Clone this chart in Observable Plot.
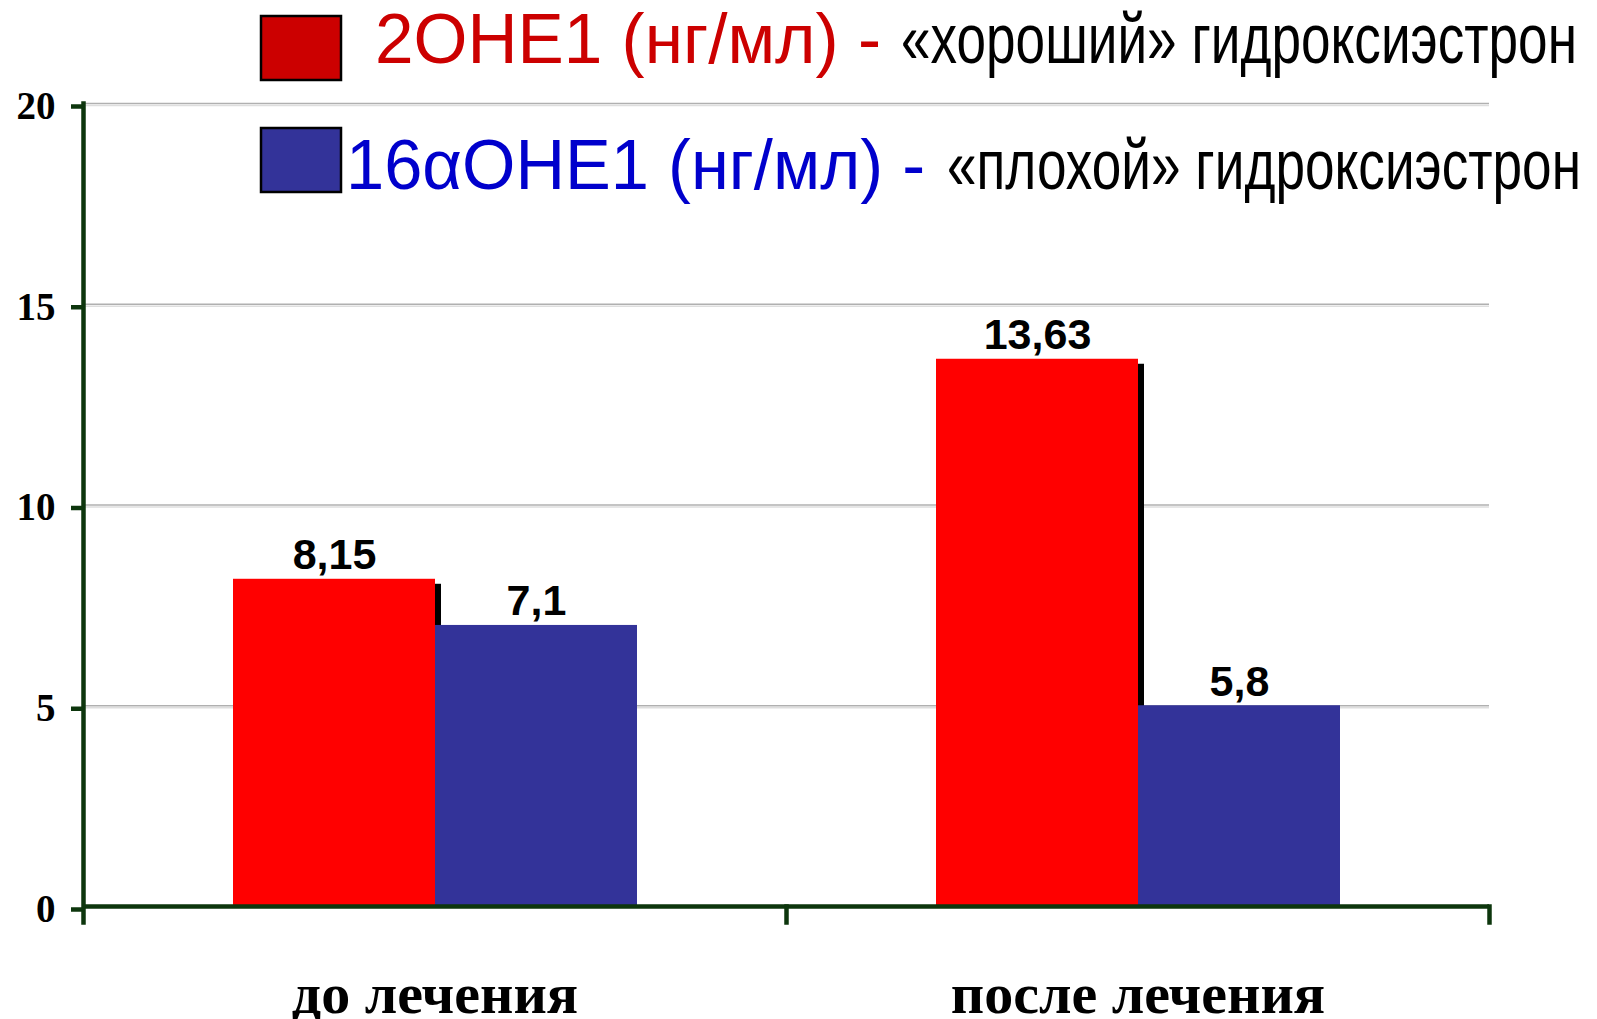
<!DOCTYPE html>
<html>
<head>
<meta charset="utf-8">
<script src="https://cdn.jsdelivr.net/npm/d3@7"></script>
<script src="https://cdn.jsdelivr.net/npm/@observablehq/plot@0.6"></script>
<style>
  html, body { margin: 0; padding: 0; background: #fff; }
  #wrap { position: relative; width: 1597px; height: 1019px; }
  #legend { position: absolute; left: 0; top: 0; pointer-events: none; }
  #warn { position: absolute; left: 10px; top: 960px; font: 12px sans-serif; color: #999; }
</style>
</head>
<body>
<div id="wrap"></div>
<script>
// ---- data ----
const groups = ["до лечения", "после лечения"];
const series = ["2OHE1", "16αOHE1"];
const heights2OHE1 = [8.15, 13.63];      // bar heights as drawn
const heights16aOHE1 = [7.0, 5.0];       // bar heights as drawn
const labels2OHE1 = ["8,15", "13,63"];
const labels16aOHE1 = ["7,1", "5,8"];
const legendNames = ["2OHE1 (нг/мл) -", "16αOHE1 (нг/мл) -"];
const legendNotes = ["«хороший» гидроксиэстрон", "«плохой» гидроксиэстрон"];
const yTicks = [0, 5, 10, 15, 20];

const rows = groups.flatMap((g, i) => [
  {group: g, series: series[0], value: heights2OHE1[i], label: labels2OHE1[i]},
  {group: g, series: series[1], value: heights16aOHE1[i], label: labels16aOHE1[i]}
]);

// ---- layout ----
const W = 1597, H = 1019;
const mT = 103, mR = 108, mB = 113, mL = 82;
const innerH = H - mT - mB;
const axisColor = "#0d360d";
const barColors = ["#ff0000", "#333399"];
const legendSwatch = ["#cc0000", "#333399"];
const legendTextColors = ["#cc0000", "#0000cc"];

const chart = Plot.plot({
  width: W, height: H,
  marginTop: mT, marginRight: mR, marginBottom: mB, marginLeft: mL,
  style: {background: "white", overflow: "visible"},
  facet: {data: rows, x: "group"},
  fx: {domain: groups, padding: 0},
  x: {domain: series, paddingInner: 0, paddingOuter: 0.74, axis: null},
  y: {domain: [0, 20]},
  color: {domain: series, range: barColors},
  marks: [
    Plot.gridY(yTicks.slice(1), {stroke: "#b0b0b0", strokeOpacity: 1, strokeWidth: 1.5}),
    Plot.gridY(yTicks.slice(1), {stroke: "#dedede", strokeOpacity: 1, strokeWidth: 1.5, dy: 2}),
    Plot.barY(rows, {filter: d => d.series === series[0], x: "series", y: "value", fill: "black", dx: 6, insetTop: 5}),
    Plot.barY(rows, {x: "series", y: "value", fill: "series"}),
    Plot.ruleY([0], {stroke: axisColor, strokeWidth: 4.5}),
    Plot.frame({anchor: "left", facetAnchor: "left", stroke: axisColor, strokeWidth: 4.5, insetBottom: -16}),
    Plot.frame({anchor: "right", stroke: axisColor, strokeWidth: 4.5, insetTop: innerH, insetBottom: -16}),
    Plot.axisY(yTicks, {
      tickSize: 12, tickPadding: 16, stroke: axisColor, strokeWidth: 4.5, fill: "black",
      fontSize: 39, fontFamily: "Liberation Serif", fontWeight: "bold", dy: 3, label: null
    }),
    Plot.axisFx({
      anchor: "bottom", tickSize: 0, tickPadding: 65, fill: "black",
      fontSize: 58, fontFamily: "Liberation Serif", fontWeight: "bold", label: null
    }),
    Plot.text(rows, {
      x: "series", y: "value", text: "label", dy: -10, lineAnchor: "bottom",
      fontSize: 43, fontFamily: "Liberation Sans", fontWeight: "bold", fill: "black"
    })
  ]
});

const wrap = document.getElementById("wrap");
wrap.appendChild(chart);

// Plot's warning glyph (if any) is not part of the chart: drop it.
d3.select(chart).selectAll("text").filter(function () {
  return (this.textContent || "").trim().startsWith("⚠");
}).remove();

// ---- legend (overlay above the plot area) ----
const leg = d3.select(wrap).append("svg")
  .attr("id", "legend")
  .attr("width", W).attr("height", 210)
  .style("font-family", "'Liberation Sans', Arial, sans-serif");

const legRows = [
  {swX: 261, swY: 16, nameX: 375, base: 63, nameLen: 506, noteX: 901, noteLen: 676},
  {swX: 261, swY: 128, nameX: 346, base: 189, nameLen: 579, noteX: 947, noteLen: 634}
];
legRows.forEach((r, i) => {
  leg.append("rect")
    .attr("x", r.swX).attr("y", r.swY).attr("width", 80).attr("height", 64)
    .attr("fill", legendSwatch[i]).attr("stroke", "black").attr("stroke-width", 2.5);
  leg.append("text")
    .attr("x", r.nameX).attr("y", r.base)
    .attr("font-size", 70).attr("fill", legendTextColors[i])
    .attr("textLength", r.nameLen).attr("lengthAdjust", "spacingAndGlyphs")
    .text(legendNames[i]);
  leg.append("text")
    .attr("x", r.noteX).attr("y", r.base)
    .attr("font-size", 70).attr("fill", "black")
    .attr("textLength", r.noteLen).attr("lengthAdjust", "spacingAndGlyphs")
    .text(legendNotes[i]);
});
</script>
</body>
</html>
